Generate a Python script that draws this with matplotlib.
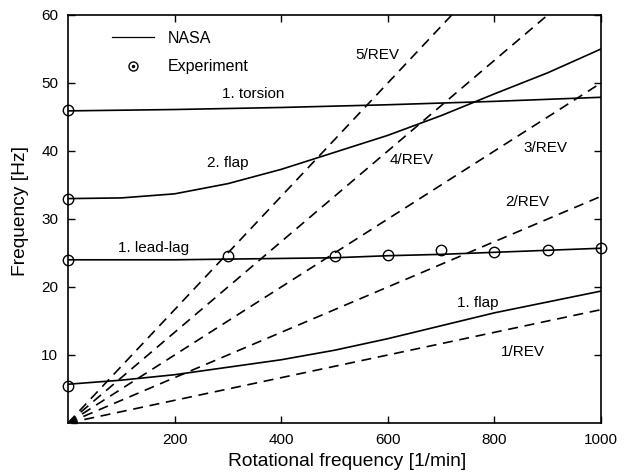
import numpy as np
import matplotlib
matplotlib.use("Agg")
import matplotlib.pyplot as plt
from matplotlib.lines import Line2D

plt.rcParams['font.family'] = ['Liberation Sans', 'DejaVu Sans']

# NASA prediction curves (rotor speed in 1/min, frequency in Hz)
rpm = [0, 100, 200, 300, 400, 500, 600, 700, 800, 900, 1000]
torsion1 = [45.9, 46.0, 46.1, 46.25, 46.4, 46.6, 46.8, 47.05, 47.3, 47.6, 47.9]
flap2 = [33.0, 33.1, 33.7, 35.2, 37.3, 39.8, 42.3, 45.2, 48.4, 51.5, 55.0]
leadlag1 = [24.0, 24.0, 24.0, 24.1, 24.2, 24.3, 24.6, 24.8, 25.1, 25.4, 25.7]
flap1 = [5.7, 6.3, 7.1, 8.2, 9.3, 10.7, 12.4, 14.3, 16.2, 17.8, 19.4]

# Measured frequencies
exp_rpm = [0, 0, 0, 0, 300, 500, 600, 700, 800, 900, 1000]
exp_freq = [46.0, 33.0, 24.0, 5.5, 24.5, 24.5, 24.7, 25.4, 25.2, 25.4, 25.7]

# Per-rev excitation lines
harmonics = [1, 2, 3, 4, 5]

fig = plt.figure(figsize=(6.29, 4.74), dpi=100)
ax = fig.add_axes([68/629, 1 - 423/474, (601-68)/629, (423-15)/474])

lw = 1.2
for n in harmonics:
    x_end = min(1000, 60 * 60 / n)
    xs = np.array([0, x_end])
    ax.plot(xs, n * xs / 60, color='black', lw=lw, ls=(0, (6, 4)))

for series in (torsion1, flap2, leadlag1, flap1):
    ax.plot(rpm, series, color='black', lw=lw)

ax.plot(exp_rpm, exp_freq, ls='none', marker='o', ms=7.5, mfc='none',
        mec='black', mew=1.0, clip_on=False)
ax.plot([12], [0.5], ls='none', marker='^', ms=5, color='black', clip_on=False)

# Curve annotations
fs = 11
labels = [
    (347, 48.4, '1. torsion'), (300, 38.2, '2. flap'),
    (160, 25.7, '1. lead-lag'), (769, 17.6, '1. flap'),
    (580, 54.1, '5/REV'), (645, 38.7, '4/REV'), (895, 40.4, '3/REV'),
    (861, 32.5, '2/REV'), (854, 10.4, '1/REV'),
]
for x, y, s in labels:
    ax.text(x, y, s, ha='center', va='center', fontsize=fs)

# Legend
h_line = Line2D([], [], color='black', lw=0.9)
h_exp = (Line2D([], [], ls='none', marker='o', ms=6.5, mfc='none', mec='black', mew=1.0),
         Line2D([], [], ls='none', marker='.', ms=3, color='black'))
ax.legend([h_line, h_exp], ['NASA', 'Experiment'], loc='upper left',
          bbox_to_anchor=((112-68)/533, (423-31)/408), frameon=False, fontsize=11.5,
          borderpad=0, borderaxespad=0,
          handlelength=2.6, handletextpad=0.9, labelspacing=0.82)

ax.set_xlim(0, 1000)
ax.set_ylim(0, 60)
ax.set_xticks([200, 400, 600, 800, 1000])
ax.set_yticks([10, 20, 30, 40, 50, 60])
ax.tick_params(direction='in', top=True, right=True, length=5, width=1,
               labelsize=fs, pad=7)
for sp in ax.spines.values():
    sp.set_linewidth(1.2)
ax.set_xlabel('Rotational frequency [1/min]', fontsize=13.8)
ax.xaxis.set_label_coords((347.5-68)/533, -(461-423)/408, transform=ax.transAxes)
ax.set_ylabel('Frequency [Hz]', fontsize=13.8)
ax.yaxis.set_label_coords(-(68-21)/533, (423-211)/408, transform=ax.transAxes)
ax.yaxis.label.set_va('center')
ax.xaxis.label.set_va('center')

fig.savefig('out.png', dpi=100)
